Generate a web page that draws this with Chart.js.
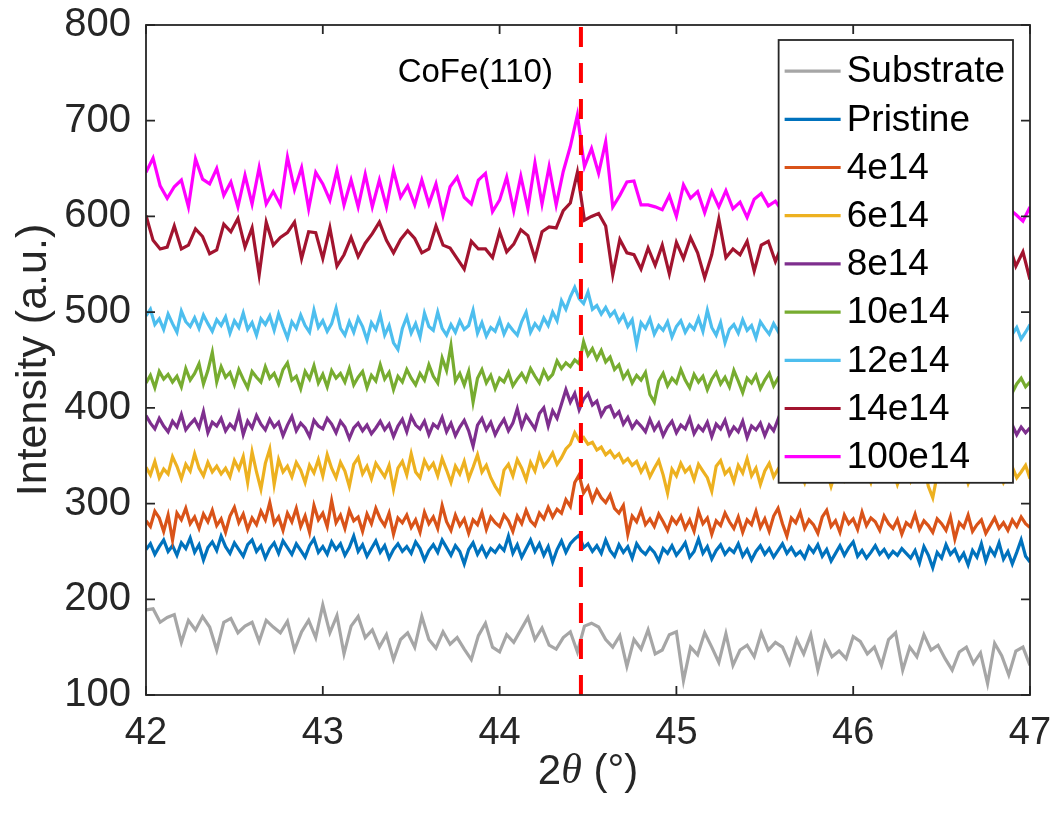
<!DOCTYPE html>
<html>
<head>
<meta charset="utf-8">
<script src="https://cdn.jsdelivr.net/npm/chart.js@4.4.1/dist/chart.umd.min.js"></script>
<style>
  html, body { margin: 0; padding: 0; background: #ffffff; }
  #wrap { width: 1054px; height: 819px; }
</style>
</head>
<body>
<div id="wrap"><canvas id="xrd" width="1054" height="819"></canvas></div>
<script>
// Scan range (2θ, degrees) and axis ticks
const angleMin = 42;
const angleMax = 47;
const xTicks = [42, 43, 44, 45, 46, 47];
const yTicks = [100, 200, 300, 400, 500, 600, 700, 800];

// CoFe(110) reflection marker
const peakPosition = 44.46;
const peakLabel = 'CoFe(110)';

const seriesNames = ['Substrate', 'Pristine', '4e14', '6e14', '8e14', '10e14', '12e14', '14e14', '100e14'];
const seriesColors = ['#A6A6A6', '#0072BD', '#D95319', '#EDB120', '#7E2F8E', '#77AC30', '#4DBEEE', '#A2142F', '#FF00FF'];

// Intensities (a.u.), each scan evenly sampled from 42° to 47°
const substrate = [
  189,190,176,181,184,155,178,168,182,171,
  147,176,180,165,172,176,156,178,171,165,
  177,147,166,178,160,194,165,183,143,172,
  182,160,168,150,163,137,158,165,150,182,
  158,149,166,153,160,148,137,162,175,150,
  145,163,155,168,181,158,170,152,148,160,
  166,145,172,175,171,158,150,162,130,158,
  148,168,143,147,163,166,115,150,142,165,
  150,134,164,131,147,152,140,165,147,155,
  150,133,158,143,163,126,155,140,146,138,
  161,156,143,150,131,158,165,126,150,140,
  163,147,152,138,126,145,150,133,144,112,
  154,141,121,146,150,131
];

const pristine = [
  252,258,247,255,262,250,256,246,259,253,
  264,249,257,241,254,260,251,266,255,248,
  259,252,245,257,262,250,256,243,253,259,
  248,261,254,247,258,251,244,256,263,249,
  255,247,260,252,258,246,254,266,250,257,
  245,253,261,249,256,243,252,258,250,255,
  248,260,253,241,251,257,249,262,254,246,
  256,250,237,252,259,247,255,245,253,249,
  256,251,266,248,257,244,253,262,250,258,
  246,255,239,252,261,249,258,263,267,254,
  258,250,256,248,262,251,245,257,249,255,
  243,258,251,247,254,249,240,253,248,256,
  246,252,259,244,250,263,248,255,242,251,
  257,247,253,249,258,245,252,241,250,256,
  247,253,244,251,258,248,254,246,250,243,
  255,249,257,245,252,240,248,256,246,254,
  260,245,251,243,249,256,247,252,244,250,
  246,253,248,243,251,238,255,246,233,249,
  243,257,247,252,241,248,236,251,244,258,
  240,253,246,259,242,250,237,249,262,245,
  239
];

const dose4e14 = [
  282,276,292,285,271,288,262,290,283,295,
  279,286,274,289,281,293,277,284,270,287,
  296,280,289,273,285,278,292,283,301,279,
  286,272,290,281,295,276,287,270,298,283,
  290,276,303,280,288,274,293,282,286,271,
  289,279,295,284,277,290,268,285,280,288,
  275,283,270,291,279,286,274,298,281,272,
  288,277,284,269,283,278,291,273,286,280,
  276,288,282,271,287,279,293,282,277,290,
  284,296,286,294,290,304,297,322,330,311,
  318,303,314,306,301,309,295,290,298,268,
  287,281,293,278,284,276,289,281,272,285,
  279,287,274,283,271,292,279,285,268,282,
  277,290,281,274,286,270,283,278,292,275,
  284,271,287,295,279,266,285,280,291,274,
  283,278,269,286,293,276,282,270,288,279,
  284,273,291,277,285,281,272,287,279,274,
  283,268,280,276,289,273,282,277,270,284,
  279,272,286,263,280,275,288,271,278,283,
  269,277,285,274,280,272,283,276,286,279,
  275
];

const dose6e14 = [
  338,330,344,327,336,331,349,339,326,341,
  334,352,337,329,343,333,339,331,337,328,
  345,336,349,322,354,333,315,342,357,320,
  346,333,339,328,343,335,322,340,332,346,
  329,351,337,327,343,334,318,341,348,331,
  339,326,342,335,328,340,315,337,344,330,
  352,333,327,345,336,342,329,347,335,322,
  339,331,344,326,338,351,333,340,327,318,
  311,335,341,329,346,337,325,343,334,351,
  339,345,353,341,348,357,362,374,366,369,
  362,364,356,359,351,355,348,352,343,347,
  340,344,333,341,328,337,345,330,311,336,
  329,342,333,338,325,341,334,327,313,339,
  345,331,336,323,340,332,347,329,337,320,
  334,342,328,336,331,344,326,337,333,322,
  340,330,345,327,335,318,333,339,325,336,
  330,342,326,334,322,338,331,343,327,335,
  320,333,339,324,336,329,341,318,306,330,
  337,325,334,340,328,336,321,333,338,326,
  331,343,329,335,322,331,338,327,333,340,
  326
];

const dose8e14 = [
  392,384,378,389,381,375,386,380,393,377,
  383,388,379,396,374,385,381,389,376,383,
  378,394,372,386,379,392,383,377,388,380,
  385,371,382,391,376,384,379,370,387,381,
  378,389,383,374,386,380,368,379,384,376,
  382,373,379,386,377,383,370,381,388,375,
  391,382,378,386,372,383,379,390,375,384,
  371,380,387,376,360,382,389,377,385,372,
  381,388,376,384,399,380,392,385,378,394,
  400,381,397,389,404,419,406,415,398,409,
  415,403,407,392,400,402,391,396,383,390,
  379,386,381,375,388,377,384,371,380,386,
  374,382,378,389,373,381,376,385,370,383,
  378,387,372,380,375,386,369,381,377,384,
  371,382,376,388,374,379,367,383,376,390,
  372,381,377,385,369,380,374,387,372,379,
  383,370,378,386,373,380,365,377,384,371,
  379,375,388,369,381,374,362,378,385,371,
  379,373,384,368,377,382,370,379,366,375,
  383,371,378,386,369,376,382,372,380,374,
  379
];

const dose10e14 = [
  426,434,421,438,430,435,427,433,422,441,
  429,436,446,425,439,458,427,443,432,437,
  424,440,430,421,438,432,427,443,431,436,
  425,440,447,429,433,420,438,430,444,426,
  435,422,439,431,436,427,441,424,432,438,
  421,434,428,445,430,437,419,433,427,440,
  431,424,436,429,445,433,426,452,439,465,
  428,436,424,438,406,431,440,426,434,420,
  431,427,437,423,430,436,428,441,433,426,
  439,430,435,449,441,447,443,450,446,469,
  455,462,451,460,448,453,440,445,431,438,
  426,434,429,437,414,406,428,436,423,431,
  426,440,429,421,435,427,433,419,430,437,
  425,432,422,439,428,416,431,426,434,420,
  429,436,423,431,427,418,433,425,438,422,
  430,426,433,419,428,435,422,430,409,426,
  433,421,429,436,423,428,418,431,425,437,
  422,429,416,427,433,420,428,424,435,419,
  427,431,421,428,414,425,432,420,427,423,
  434,418,426,430,421,428,416,425,431,422,
  427
];

const dose12e14 = [
  496,503,487,493,482,498,488,479,501,490,
  485,494,483,497,488,480,492,486,495,478,
  491,484,499,482,489,476,493,487,496,481,
  498,485,473,490,483,497,486,479,502,484,
  491,480,488,504,483,476,490,479,494,485,
  471,489,482,497,476,486,468,461,483,495,
  478,488,474,499,485,481,500,483,476,487,
  479,491,482,486,502,478,489,475,484,480,
  492,477,487,481,476,490,500,479,488,482,
  494,486,500,491,512,503,516,526,514,509,
  521,503,507,498,505,496,501,490,497,485,
  492,466,489,483,493,477,486,481,490,474,
  485,491,479,487,482,494,480,502,484,476,
  489,468,482,487,478,492,481,486,473,490,
  483,477,488,480,494,475,485,479,491,476,
  484,470,487,481,477,489,474,483,479,492,
  476,485,471,482,478,488,473,481,486,475,
  483,469,480,477,489,472,482,476,485,470,
  479,484,473,481,467,478,486,474,480,476,
  483,471,479,474,482,468,477,484,472,479,
  487
];

const dose14e14 = [
  601,575,566,568,590,566,570,587,579,561,
  565,592,584,598,568,588,539,594,570,578,
  583,594,556,584,583,556,588,548,560,578,
  558,572,582,594,575,562,576,585,577,562,
  566,590,570,567,556,545,574,566,566,557,
  584,563,571,586,580,556,584,589,588,606,
  614,646,596,600,603,590,539,576,562,560,
  545,567,549,570,540,573,556,578,562,536,
  560,597,557,566,560,574,543,570,574,553,
  571,562,578,552,566,573,558,580,561,569,
  554,575,563,571,549,566,578,557,569,562,
  574,551,567,560,576,555,568,562,571,553,
  566,559,572,548,563,534
];

const dose100e14 = [
  646,661,632,619,631,638,610,660,639,634,
  650,622,636,610,643,613,651,613,626,612,
  662,628,651,608,646,634,617,648,612,638,
  610,644,610,638,610,648,620,632,612,638,
  613,634,601,631,641,620,613,638,645,605,
  617,641,606,642,608,656,613,652,612,647,
  673,706,652,671,645,678,610,622,636,637,
  612,612,610,607,622,600,633,619,626,604,
  626,610,627,608,615,599,618,624,611,616,
  605,614,622,609,615,603,618,610,606,620,
  601,612,617,604,611,619,600,613,607,616,
  598,610,604,615,602,609,617,600,611,605,
  613,598,608,602,595,610
];

const seriesValues = [substrate, pristine, dose4e14, dose6e14, dose8e14, dose10e14, dose12e14, dose14e14, dose100e14];

const FONT = '"Liberation Sans", Arial, Helvetica, sans-serif';
const AXIS_COLOR = '#262626';

// pair each intensity with its diffraction angle
function toPoints(values) {
  const step = (angleMax - angleMin) / (values.length - 1);
  return values.map((v, i) => ({ x: angleMin + i * step, y: v }));
}

const datasets = seriesValues.map((vals, i) => ({
  label: seriesNames[i],
  data: toPoints(vals),
  borderColor: seriesColors[i],
  backgroundColor: seriesColors[i],
  borderWidth: 3.2,
  pointRadius: 0,
  tension: 0,
  fill: false,
  order: 20 - i
}));

// vertical dashed reference at the CoFe(110) position
datasets.push({
  label: peakLabel,
  data: [{ x: peakPosition, y: yTicks[0] }, { x: peakPosition, y: yTicks[yTicks.length - 1] }],
  borderColor: '#FF0000',
  borderWidth: 4,
  borderDash: [20, 16],
  pointRadius: 0,
  fill: false,
  order: 0,
  isMarker: true
});

// box, inward ticks, axis titles, peak label and boxed legend
const decorations = {
  id: 'decorations',
  afterDatasetsDraw(chart) {
    const { ctx, chartArea: a, scales } = chart;
    const xs = scales.x, ys = scales.y;
    ctx.save();

    // peak label
    ctx.fillStyle = '#000000';
    ctx.font = '33px ' + FONT;
    ctx.textAlign = 'right';
    ctx.textBaseline = 'middle';
    ctx.fillText(peakLabel, xs.getPixelForValue(peakPosition) - 28, ys.getPixelForValue(750));

    // axes box with inward ticks on every side
    ctx.strokeStyle = AXIS_COLOR;
    ctx.lineWidth = 1.8;
    ctx.strokeRect(a.left, a.top, a.right - a.left, a.bottom - a.top);
    const tl = 9;
    ctx.beginPath();
    xTicks.forEach(v => {
      const px = xs.getPixelForValue(v);
      ctx.moveTo(px, a.bottom); ctx.lineTo(px, a.bottom - tl);
      ctx.moveTo(px, a.top); ctx.lineTo(px, a.top + tl);
    });
    yTicks.forEach(v => {
      const py = ys.getPixelForValue(v);
      ctx.moveTo(a.left, py); ctx.lineTo(a.left + tl, py);
      ctx.moveTo(a.right, py); ctx.lineTo(a.right - tl, py);
    });
    ctx.stroke();

    // y-axis title
    ctx.fillStyle = AXIS_COLOR;
    ctx.save();
    ctx.translate(34, (a.top + a.bottom) / 2);
    ctx.rotate(-Math.PI / 2);
    ctx.font = '43px ' + FONT;
    ctx.textAlign = 'center';
    ctx.textBaseline = 'middle';
    ctx.fillText('Intensity (a.u.)', 0, 0);
    ctx.restore();

    // x-axis title: 2θ (°) with italic theta
    const parts = [
      { t: '2', f: '42px ' + FONT },
      { t: 'θ', f: 'italic 42px "Liberation Serif", "DejaVu Serif", serif' },
      { t: ' (°)', f: '42px ' + FONT }
    ];
    let total = 0;
    parts.forEach(p => { ctx.font = p.f; p.w = ctx.measureText(p.t).width; total += p.w; });
    let cx = (a.left + a.right) / 2 - total / 2;
    ctx.textAlign = 'left';
    ctx.textBaseline = 'middle';
    parts.forEach(p => { ctx.font = p.f; ctx.fillText(p.t, cx, 772); cx += p.w; });

    // legend box
    const items = chart.data.datasets.filter(d => !d.isMarker);
    ctx.font = '37px ' + FONT;
    const textW = Math.max(...items.map(d => ctx.measureText(d.label).width));
    const rowH = 48.2, sampleL = 6, sampleLen = 56, gap = 6, padR = 8;
    const w = sampleL + sampleLen + gap + textW + padR;
    const h = items.length * rowH + 9;
    const right = a.right - 17, top = a.top + 15, left = right - w;
    ctx.fillStyle = '#ffffff';
    ctx.fillRect(left, top, w, h);
    ctx.strokeStyle = AXIS_COLOR;
    ctx.lineWidth = 1.8;
    ctx.strokeRect(left, top, w, h);
    items.forEach((d, i) => {
      const cy = top + 7 + rowH * (i + 0.5);
      ctx.strokeStyle = d.borderColor;
      ctx.lineWidth = 3.2;
      ctx.beginPath();
      ctx.moveTo(left + sampleL, cy);
      ctx.lineTo(left + sampleL + sampleLen, cy);
      ctx.stroke();
      ctx.fillStyle = '#000000';
      ctx.textAlign = 'left';
      ctx.textBaseline = 'middle';
      ctx.fillText(d.label, left + sampleL + sampleLen + gap, cy + 1);
    });
    ctx.restore();
  }
};

new Chart(document.getElementById('xrd'), {
  type: 'line',
  data: { datasets },
  options: {
    responsive: false,
    animation: false,
    devicePixelRatio: 1,
    parsing: false,
    normalized: true,
    layout: { padding: { left: 0, right: 24, top: 25, bottom: 0 } },
    plugins: { legend: { display: false }, tooltip: { enabled: false } },
    scales: {
      x: {
        type: 'linear',
        min: angleMin,
        max: angleMax,
        afterBuildTicks: s => { s.ticks = xTicks.map(v => ({ value: v })); },
        afterFit: s => { s.height = 124; s.paddingLeft = 0; s.paddingRight = 0; },
        grid: { display: false, drawTicks: false },
        border: { display: false },
        ticks: { font: { family: FONT, size: 38 }, color: AXIS_COLOR, padding: 16, maxRotation: 0 }
      },
      y: {
        type: 'linear',
        min: yTicks[0],
        max: yTicks[yTicks.length - 1],
        afterBuildTicks: s => { s.ticks = yTicks.map(v => ({ value: v })); },
        afterFit: s => { s.width = 146; s.paddingTop = 0; s.paddingBottom = 0; },
        grid: { display: false, drawTicks: false },
        border: { display: false },
        ticks: { font: { family: FONT, size: 40 }, color: AXIS_COLOR, padding: 15 }
      }
    }
  },
  plugins: [decorations]
});
</script>
</body>
</html>
